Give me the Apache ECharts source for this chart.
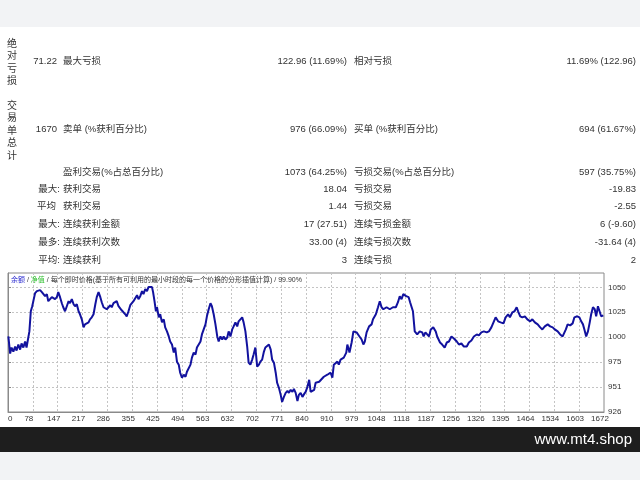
<!DOCTYPE html>
<html><head><meta charset="utf-8">
<script src="https://cdn.jsdelivr.net/npm/echarts@6/dist/echarts.min.js"></script>
<style>html,body{margin:0;padding:0;background:#fff}#c{width:640px;height:480px}</style>
</head><body><div id="c"></div>
<script>
// ---- data ----
const tradeIdx = [1,6,10,15,20,24,29,34,38,43,48,52,57,60,64,68,71,76,81,85,90,95,99,104,109,113,118,123,127,132,137,141,146,151,155,160,165,170,174,179,184,188,193,198,202,207,212,216,221,226,230,235,240,245,249,254,259,263,268,273,277,282,287,291,296,301,305,310,315,319,324,329,333,338,343,347,352,357,362,366,371,376,380,385,390,394,399,404,407,411,415,418,423,427,432,437,441,446,451,455,460,465,469,474,479,483,488,493,498,502,507,512,516,521,526,530,535,540,544,549,554,558,563,568,572,577,582,587,591,596,601,605,610,615,619,624,629,633,638,643,647,652,657,661,666,671,675,680,685,689,694,699,704,708,713,718,722,727,732,737,741,746,751,755,760,765,769,774,779,784,788,793,798,802,807,812,816,821,826,831,835,840,845,849,859,863,868,873,877,886,896,905,910,914,924,928,933,942,949,952,958,964,969,974,978,986,992,997,1001,1006,1013,1020,1024,1032,1038,1043,1048,1053,1062,1066,1071,1080,1088,1094,1099,1104,1109,1117,1124,1128,1136,1141,1148,1155,1162,1166,1171,1176,1181,1186,1193,1200,1204,1212,1218,1225,1231,1237,1244,1251,1259,1265,1272,1279,1287,1293,1300,1307,1315,1321,1328,1335,1343,1349,1356,1362,1368,1375,1382,1390,1396,1403,1408,1415,1421,1427,1431,1437,1443,1450,1457,1465,1471,1478,1486,1493,1499,1506,1514,1521,1528,1534,1542,1549,1556,1560,1565,1570,1577,1584,1589,1597,1603,1608,1613,1617,1622,1627,1632,1636,1641,1646,1650,1655,1660,1664,1670];
const equity = [1001,984,990,986,991,987,993,988,994,990,996,990,990,1006,1026,1031,1036,1044,1046,1045,1047,1045,1046,1041,1043,1036,1038,1040,1041,1038,1040,1045,1040,1034,1030,1026,1031,1036,1034,1038,1033,1031,1033,1026,1023,1018,1010,1013,1014,1015,1018,1020,1023,1033,1040,1045,1040,1035,1030,1031,1028,1030,1032,1030,1034,1033,1036,1031,1030,1027,1026,1023,1021,1026,1032,1033,1036,1035,1042,1038,1041,1046,1043,1048,1046,1050,1051,1050,1045,1036,1026,1030,1020,1023,1015,1018,1010,1006,1001,996,993,985,990,976,973,965,960,963,961,966,965,973,980,985,983,990,993,996,1003,1008,1013,1021,1028,1034,1031,1023,1013,1001,996,1001,998,1001,998,1000,1006,1001,1008,1011,1015,1011,1016,1015,1020,1015,1006,991,975,973,978,983,990,971,973,976,978,986,990,991,993,988,978,975,965,955,950,943,936,941,945,947,945,948,946,949,945,937,943,945,941,944,946,951,958,946,948,955,956,956,956,961,963,965,960,973,976,973,978,980,985,993,985,995,1006,1006,1005,1001,998,993,996,1005,1011,1013,1018,1023,1030,1036,1030,1028,1030,1031,1028,1030,1030,1035,1041,1038,1043,1041,1040,1035,1026,1006,1003,1006,1005,1001,1005,1006,1001,1008,1010,1006,1001,995,993,990,995,996,1001,999,996,993,994,991,991,995,997,1001,1003,1002,1005,1006,1005,1006,1010,1015,1020,1016,1015,1014,1020,1023,1020,1025,1026,1030,1026,1021,1020,1021,1018,1016,1018,1015,1013,1010,1008,1011,1013,1011,1010,1008,1006,1003,1001,1000,1008,1013,1012,1014,1020,1021,1020,1016,1013,1008,1001,1006,1015,1023,1030,1028,1021,1031,1030,1021,1022,1021];
const xTickLabels = ['0','78','147','217','286','355','425','494','563','632','702','771','840','910','979','1048','1118','1187','1256','1326','1395','1464','1534','1603','1672'];
const yTickLabels = ['926','951','975','1000','1025','1050'];

const tableRows = [
  {y:61,  a:'71.22', b:'最大亏损', c:'122.96 (11.69%)', d:'相对亏损', e:'11.69% (122.96)'},
  {y:129, a:'1670',  b:'卖单 (%获利百分比)', c:'976 (66.09%)', d:'买单 (%获利百分比)', e:'694 (61.67%)'},
  {y:172, a:'',      b:'盈利交易(%占总百分比)', c:'1073 (64.25%)', d:'亏损交易(%占总百分比)', e:'597 (35.75%)'},
  {y:189, a:'最大:', b:'获利交易', c:'18.04', d:'亏损交易', e:'-19.83'},
  {y:206, a:'平均',  b:'获利交易', c:'1.44', d:'亏损交易', e:'-2.55'},
  {y:224, a:'最大:', b:'连续获利金额', c:'17 (27.51)', d:'连续亏损金额', e:'6 (-9.60)'},
  {y:242, a:'最多:', b:'连续获利次数', c:'33.00 (4)', d:'连续亏损次数', e:'-31.64 (4)'},
  {y:260, a:'平均:', b:'连续获利', c:'3', d:'连续亏损', e:'2'}
];
const sideLabels = [{y:43, t:'绝对亏损'}, {y:105, t:'交易单总计'}];

// ---- build ----
const FONT = '"Liberation Sans", "Noto Sans CJK SC", sans-serif';
const TXT = '#333';
const X_MIN = 0, X_MAX = 1672, X_INT = X_MAX / 24;
const Y_MIN = 926, Y_MAX = 1064, Y_INT = 24.75;

const graphics = [
  {type:'rect', shape:{x:0,y:0,width:640,height:27}, style:{fill:'#f2f3f5'}, z:0},
  {type:'rect', shape:{x:0,y:427,width:640,height:25}, style:{fill:'#1e1e1e'}, z:0},
  {type:'rect', shape:{x:0,y:452,width:640,height:28}, style:{fill:'#f2f3f5'}, z:0},
  {type:'text', x:632, y:440, style:{text:'www.mt4.shop', fill:'#fff', font:'15px "Liberation Sans", sans-serif', textAlign:'right', textVerticalAlign:'middle'}, z:1}
];
sideLabels.forEach(s => {
  graphics.push({type:'text', x:12, y:s.y - 5, style:{text:s.t.split('').join('\n'), fill:TXT, fontSize:10, fontFamily:FONT, lineHeight:12.4, textAlign:'center', textVerticalAlign:'top'}});
});
tableRows.forEach(r => {
  const base = {fill:TXT, fontSize:9.5, fontFamily:FONT, textVerticalAlign:'middle'};
  if (r.a) {
    const isLabel = /[^\d.]/.test(r.a);
    graphics.push({type:'text', x: isLabel ? (r.a.length === 2 ? 56 : 60) : 57, y:r.y, style:Object.assign({text:r.a, textAlign:'right'}, base)});
  }
  graphics.push({type:'text', x:63, y:r.y, style:Object.assign({text:r.b, textAlign:'left'}, base)});
  graphics.push({type:'text', x:347, y:r.y, style:Object.assign({text:r.c, textAlign:'right'}, base)});
  graphics.push({type:'text', x:354, y:r.y, style:Object.assign({text:r.d, textAlign:'left'}, base)});
  graphics.push({type:'text', x:636, y:r.y, style:Object.assign({text:r.e, textAlign:'right'}, base)});
});
// chart caption inside plot
graphics.push({type:'text', x:11, y:280, z:10, style:{
  text:'{b|余额} / {g|净值} / 每个即时价格(基于所有可利用的最小时段的每一个价格的分形插值计算) / 99.90%',
  fill:'#333', fontSize:7, fontFamily:FONT, textVerticalAlign:'middle',
  rich:{b:{fill:'#2b2bd0', fontSize:7, fontFamily:FONT}, g:{fill:'#2fbf2f', fontSize:7, fontFamily:FONT}}
}});

const seriesData = tradeIdx.map((t, i) => [t, equity[i]]);

const chart = echarts.init(document.getElementById('c'), null, {renderer:'canvas'});
chart.setOption({
  animation:false,
  backgroundColor:'#fff',
  graphic: graphics,
  grid:{left:8, right:36, top:273, bottom:68, show:true, borderColor:'#8a8a8a', borderWidth:1, backgroundColor:'transparent'},
  xAxis:{
    type:'value', min:X_MIN, max:X_MAX, interval:X_INT,
    axisLine:{show:true, lineStyle:{color:'#8a8a8a'}},
    axisTick:{show:false},
    splitLine:{show:true, lineStyle:{color:'#c4c4c4', type:[2,2]}},
    axisLabel:{color:TXT, fontSize:8, fontFamily:FONT, margin:3, padding:[0,8,0,0], alignMinLabel:'left',
      formatter:(v)=>{const i=Math.round((v-X_MIN)/X_INT); return xTickLabels[i]!==undefined ? xTickLabels[i] : '';}}
  },
  yAxis:{
    type:'value', position:'right', min:Y_MIN, max:Y_MAX, interval:Y_INT,
    axisLine:{show:true, lineStyle:{color:'#8a8a8a'}},
    axisTick:{show:true, length:3, lineStyle:{color:'#8a8a8a'}},
    splitLine:{show:true, lineStyle:{color:'#c4c4c4', type:[2,2]}},
    axisLabel:{color:TXT, fontSize:8, fontFamily:FONT, margin:4, showMaxLabel:false,
      formatter:(v)=>{if (v > Y_MAX - 5) return ''; const i=Math.round((v-Y_MIN)/Y_INT); return yTickLabels[i]!==undefined ? yTickLabels[i] : '';}}
  },
  series:[{
    type:'line', data:seriesData, showSymbol:false, symbol:'none',
    lineStyle:{color:'#12129e', width:2}, z:5
  }]
});
</script></body></html>
